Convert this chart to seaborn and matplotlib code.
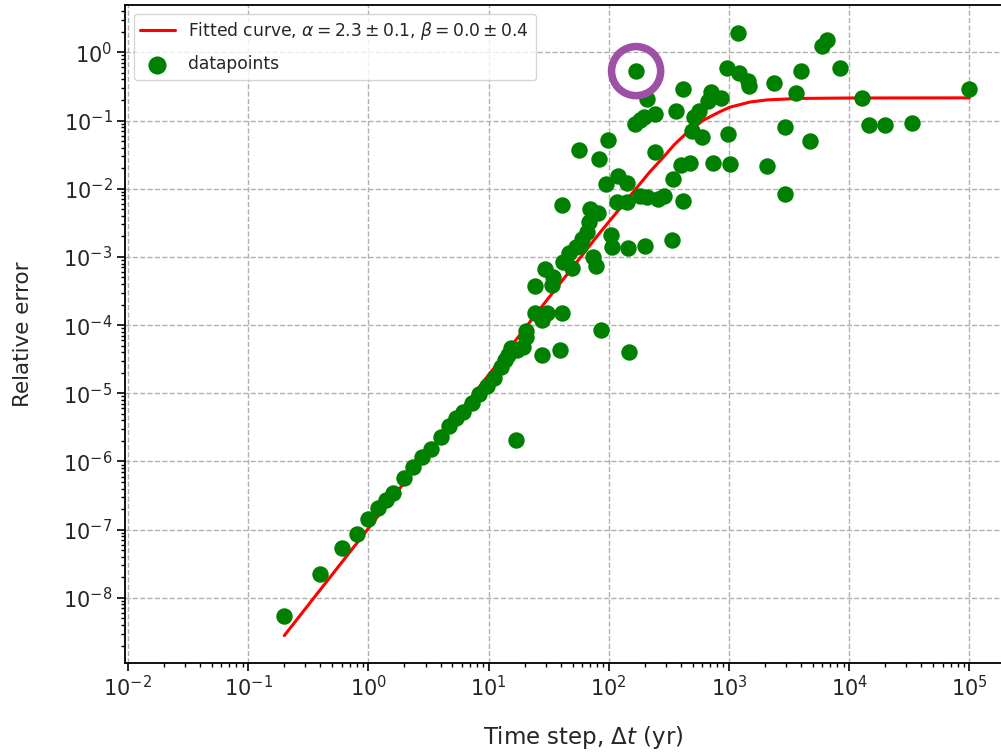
import matplotlib
matplotlib.use("Agg")
import matplotlib.pyplot as plt
from matplotlib.ticker import FixedLocator, NullFormatter
import pandas as pd
import seaborn as sns

# datapoints (time step in yr, relative error)
time_step = [
    0.2, 0.4, 0.6, 0.8, 1.0, 1.2, 1.4, 1.6, 2.0, 2.35,
    2.8, 3.3, 4.0, 4.7, 5.4, 6.1, 7.3, 8.3, 9.7, 11.1,
    12.7, 13.7, 14.5, 15.4, 17.3, 19.4, 20.5, 20.5, 24.4, 27.9,
    30.7, 40.9, 24.4, 33.8, 29.5, 34.4, 41.7, 49.5, 46.7, 53.5,
    57.7, 60.0, 66.0, 78.4, 86.3, 148, 27.9, 39.4, 16.9, 40.9,
    69.9, 81.5, 68.6, 74.0, 104.5, 106.5, 145, 200, 336, 95,
    119.5, 142, 117, 142, 182, 208, 257, 288, 415, 56.6,
    83, 98.7, 243, 343, 399, 475, 738, 1020, 2075, 2930,
    169, 208, 166, 182, 197, 243, 363, 415, 564, 512,
    493, 597, 670, 710, 859, 964, 1213, 1442, 1469, 1191,
    984, 2372, 3614, 3981, 2930, 4730, 5956, 6550, 8400, 12800,
    14650, 19900, 33370, 100000,
]
rel_error = [
    5.5e-9, 2.26e-8, 5.3e-8, 8.7e-8, 1.45e-7, 2.1e-7, 2.76e-7, 3.5e-7, 5.8e-7, 8.4e-7,
    1.18e-6, 1.55e-6, 2.32e-6, 3.26e-6, 4.27e-6, 5.4e-6, 7.3e-6, 9.9e-6, 1.30e-5, 1.65e-5,
    2.39e-5, 3.03e-5, 3.59e-5, 4.55e-5, 4.25e-5, 4.7e-5, 8.1e-5, 6.6e-5, 1.49e-4, 1.17e-4,
    1.49e-4, 1.49e-4, 3.7e-4, 3.83e-4, 6.6e-4, 5.0e-4, 8.3e-4, 6.8e-4, 1.13e-3, 1.38e-3,
    1.43e-3, 1.81e-3, 2.30e-3, 7.3e-4, 8.4e-5, 3.97e-5, 3.59e-5, 4.25e-5, 2.1e-6, 5.7e-3,
    5.0e-3, 4.37e-3, 3.22e-3, 9.9e-4, 2.08e-3, 1.38e-3, 1.34e-3, 1.43e-3, 1.75e-3, 1.16e-2,
    1.53e-2, 1.20e-2, 6.3e-3, 6.3e-3, 7.8e-3, 7.5e-3, 7.0e-3, 7.8e-3, 6.5e-3, 3.67e-2,
    2.71e-2, 5.15e-2, 3.44e-2, 1.38e-2, 2.21e-2, 2.37e-2, 2.37e-2, 2.29e-2, 2.14e-2, 8.3e-3,
    0.531, 0.206, 8.9e-2, 0.101, 0.112, 0.124, 0.137, 0.289, 0.137, 0.112,
    7.0e-2, 5.7e-2, 0.193, 0.261, 0.213, 0.588, 0.497, 0.379, 0.320, 1.92,
    6.3e-2, 0.354, 0.253, 0.531, 8.0e-2, 4.98e-2, 1.24, 1.52, 0.588, 0.213,
    8.6e-2, 8.6e-2, 9.2e-2, 0.289,
]

# fitted curve
fit_dt = [0.2, 1, 8, 16.6, 28.6, 85, 120, 166, 220, 285,
          350, 446, 612, 843, 1020, 1500, 2100, 3900, 10000, 100000]
fit_err = [2.8e-9, 1.04e-7, 1.12e-5, 5.8e-5, 2.0e-4, 2.3e-3, 4.8e-3, 9.7e-3, 1.77e-2, 2.9e-2,
           4.4e-2, 6.6e-2, 0.101, 0.135, 0.157, 0.187, 0.201, 0.211, 0.214, 0.215]

# the circled point
marked_dt = [169]
marked_err = [0.531]

# decades that carry a label
x_decades = [1e-2, 1e-1, 1e0, 1e1, 1e2, 1e3, 1e4, 1e5]
y_decades = [1e-8, 1e-7, 1e-6, 1e-5, 1e-4, 1e-3, 1e-2, 1e-1, 1e0]

fit_label = r'Fitted curve, $\alpha = 2.3 \pm 0.1$, $\beta = 0.0 \pm 0.4$'


def minor_log_ticks(lo_exp, hi_exp):
    # 2..9 times every decade between the two exponents
    return [m * 10.0 ** k for k in range(lo_exp, hi_exp + 1) for m in range(2, 10)]


sns.set_style("ticks")
plt.rcParams['font.family'] = ['DejaVu Sans']
plt.rcParams['mathtext.fontset'] = 'dejavusans'

df = pd.DataFrame({'dt': time_step, 'err': rel_error})
fit_df = pd.DataFrame({'dt': fit_dt, 'err': fit_err})

fig = plt.figure(figsize=(10.01, 7.55), dpi=100)
ax = fig.add_axes([0.1249, 0.1219, 0.9155, 0.8715])
ax.set_xscale('log')
ax.set_yscale('log')

sns.lineplot(data=fit_df, x='dt', y='err', color='red', linewidth=2.2,
             label=fit_label, ax=ax, zorder=2)
sns.scatterplot(data=df, x='dt', y='err', color='green', s=140, linewidth=0,
                label='datapoints', ax=ax, zorder=3)
ax.scatter(marked_dt, marked_err, s=1250, facecolors='none',
           edgecolors='#9e4fa6', linewidths=5.4, zorder=4)

ax.xaxis.set_major_locator(FixedLocator(x_decades))
ax.yaxis.set_major_locator(FixedLocator(y_decades))
ax.xaxis.set_minor_locator(FixedLocator(minor_log_ticks(-3, 5)))
ax.yaxis.set_minor_locator(FixedLocator(minor_log_ticks(-10, 0)))
ax.xaxis.set_minor_formatter(NullFormatter())
ax.yaxis.set_minor_formatter(NullFormatter())
ax.set_xlim(10 ** -2.024, 10 ** 5.6)
ax.set_ylim(1.11e-9, 4.95)

ax.grid(True, which='major', linestyle='--', color='#b0b0b0', linewidth=1)
ax.grid(False, which='minor')
ax.set_axisbelow(True)
ax.tick_params(which='major', length=5.5, width=1.2, labelsize=15, color='black')
ax.tick_params(which='minor', bottom=True, left=True, length=3.2, width=1.0, color='black')
for sp in ax.spines.values():
    sp.set_visible(True)
    sp.set_color('black')
    sp.set_linewidth(1.3)

ax.set_xlabel(r'Time step, $\Delta t$ (yr)', fontsize=16.5, labelpad=17)
ax.set_ylabel('Relative error', fontsize=15.5, labelpad=22)

ax.legend(loc='upper left', fontsize=12.3, frameon=True, framealpha=0.8,
          edgecolor='#cccccc', borderaxespad=0.5, labelspacing=0.75,
          markerscale=1.1)

fig.savefig('out.png', dpi=100)
